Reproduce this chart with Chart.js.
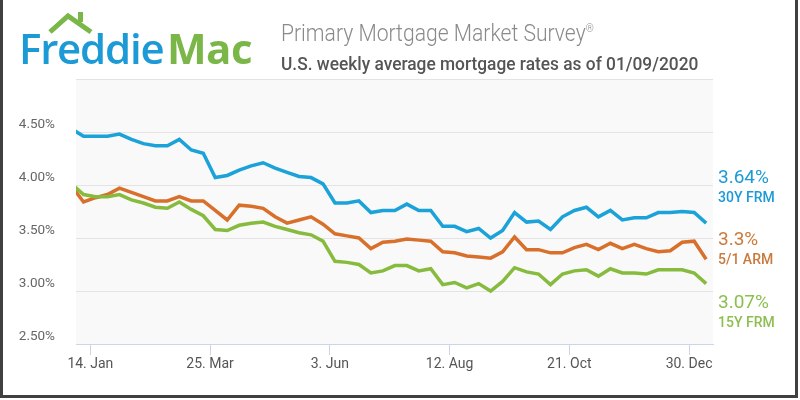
<!DOCTYPE html>
<html>
<head>
<meta charset="utf-8">
<script src="https://cdn.jsdelivr.net/npm/chart.js@4.4.1/dist/chart.umd.min.js"></script>
<style>
  html, body { margin: 0; padding: 0; background: #fff; }
  #page { position: relative; width: 800px; height: 400px; overflow: hidden; font-family: Roboto, sans-serif; }
  #frame { position: absolute; left: 0; top: -4px; width: 798px; height: 402px; box-sizing: border-box; border: 3px solid #404040; }
  #chart { position: absolute; left: 0; top: 0; }
  .t { position: absolute; line-height: 1; white-space: nowrap; transform-origin: left top; }
  #logo1 { left: 19px; top: 27px; font-family: "Open Sans", sans-serif; font-weight: 600; font-size: 42px; color: #1c9ad6; letter-spacing: -1.2px; }
  #logo2 { left: 167px; top: 27px; font-family: "Open Sans", sans-serif; font-weight: 700; font-size: 42px; color: #7ab648; letter-spacing: -0.5px; }
  #title { left: 281px; top: 22px; font-size: 23px; font-weight: 300; color: #8a8a8a; transform: scaleX(0.918); }
  #title sup { font-size: 11px; vertical-align: 9px; }
  #sub { left: 281px; top: 54px; font-size: 19px; font-weight: 500; color: #555; transform: scaleX(0.912); }
  .val { font-size: 19px; left: 718px; }
  .nm { font-size: 14px; font-weight: 500; left: 718px; }
</style>
</head>
<body>
<div id="page">
  <canvas id="chart" width="800" height="400"></canvas>
  <svg style="position:absolute;left:0;top:0" width="120" height="40">
    <polyline points="50,32 68,16 91,32" fill="none" stroke="#7ab648" stroke-width="5" stroke-linejoin="miter"/>
    <rect x="78" y="12" width="5" height="10" fill="#7ab648"/>
  </svg>
  <div class="t" id="logo1">Freddie</div>
  <div class="t" id="logo2">Mac</div>
  <div class="t" id="title">Primary Mortgage Market Survey<sup>®</sup></div>
  <div class="t" id="sub">U.S. weekly average mortgage rates as of 01/09/2020</div>
  <div class="t val" style="top:167px;color:#1c9ad6">3.64%</div>
  <div class="t nm" style="top:190px;color:#1c9ad6">30Y FRM</div>
  <div class="t val" style="top:229px;color:#c97a3c">3.3%</div>
  <div class="t nm" style="top:252px;color:#c97a3c">5/1 ARM</div>
  <div class="t val" style="top:292px;color:#8cbf4f">3.07%</div>
  <div class="t nm" style="top:315px;color:#8cbf4f">15Y FRM</div>
  <div id="frame"></div>
</div>
<script>
const weeks = [
  "2019-01-03", "2019-01-10", "2019-01-17", "2019-01-24", "2019-01-31",
  "2019-02-07", "2019-02-14", "2019-02-21", "2019-02-28",
  "2019-03-07", "2019-03-14", "2019-03-21", "2019-03-28",
  "2019-04-04", "2019-04-11", "2019-04-18", "2019-04-25",
  "2019-05-02", "2019-05-09", "2019-05-16", "2019-05-23", "2019-05-30",
  "2019-06-06", "2019-06-13", "2019-06-20", "2019-06-27",
  "2019-07-04", "2019-07-11", "2019-07-18", "2019-07-25",
  "2019-08-01", "2019-08-08", "2019-08-15", "2019-08-22", "2019-08-29",
  "2019-09-05", "2019-09-12", "2019-09-19", "2019-09-26",
  "2019-10-03", "2019-10-10", "2019-10-17", "2019-10-24", "2019-10-31",
  "2019-11-07", "2019-11-14", "2019-11-21", "2019-11-28",
  "2019-12-05", "2019-12-12", "2019-12-19", "2019-12-26",
  "2020-01-02", "2020-01-09"
];

const frm30 = [
  4.53, 4.46, 4.46, 4.46, 4.48, 4.43, 4.39, 4.37, 4.37,
  4.43, 4.33, 4.30, 4.07, 4.09, 4.14, 4.18, 4.21,
  4.16, 4.12, 4.08, 4.07, 4.01, 3.83, 3.83, 3.85, 3.74,
  3.76, 3.76, 3.82, 3.76, 3.76, 3.61, 3.61, 3.56, 3.59,
  3.50, 3.57, 3.74, 3.65, 3.66, 3.58, 3.70, 3.76, 3.79,
  3.70, 3.76, 3.67, 3.69, 3.69, 3.74, 3.74, 3.75, 3.74, 3.64
];

const arm51 = [
  3.99, 3.84, 3.88, 3.91, 3.97, 3.93, 3.89, 3.85, 3.85,
  3.89, 3.85, 3.85, 3.76, 3.67, 3.81, 3.80, 3.78,
  3.70, 3.64, 3.67, 3.70, 3.63, 3.54, 3.52, 3.50, 3.40,
  3.46, 3.47, 3.49, 3.48, 3.47, 3.37, 3.36, 3.33, 3.32,
  3.31, 3.37, 3.51, 3.39, 3.39, 3.36, 3.36, 3.41, 3.44,
  3.39, 3.45, 3.40, 3.44, 3.40, 3.37, 3.38, 3.46, 3.47, 3.30
];

const frm15 = [
  4.01, 3.91, 3.89, 3.89, 3.91, 3.86, 3.83, 3.79, 3.78,
  3.84, 3.77, 3.71, 3.58, 3.57, 3.62, 3.64, 3.65,
  3.61, 3.58, 3.55, 3.53, 3.47, 3.28, 3.27, 3.25, 3.17,
  3.19, 3.24, 3.24, 3.19, 3.21, 3.06, 3.08, 3.03, 3.07,
  3.00, 3.09, 3.22, 3.18, 3.16, 3.06, 3.16, 3.19, 3.20,
  3.14, 3.21, 3.17, 3.17, 3.16, 3.20, 3.20, 3.20, 3.17, 3.07
];

const tickDates = ["2019-01-14", "2019-03-25", "2019-06-03", "2019-08-12", "2019-10-21", "2019-12-30"];
const tickLabels = ["14. Jan", "25. Mar", "3. Jun", "12. Aug", "21. Oct", "30. Dec"];

// days since the first week, used as the x value
const day0 = Date.parse(weeks[0]);
const toDay = d => Math.round((Date.parse(d) - day0) / 86400000);
const xs = weeks.map(toDay);
const tickDays = tickDates.map(toDay);

const pts = vals => vals.map((v, i) => ({ x: xs[i], y: v }));

const plotBg = {
  id: "plotBg",
  beforeDraw(chart) {
    const a = chart.chartArea;
    const ctx = chart.ctx;
    ctx.save();
    ctx.fillStyle = "#f9f9f9";
    ctx.fillRect(a.left, a.top, a.right - a.left, a.bottom - a.top);
    ctx.restore();
  }
};

const line = (data, color) => ({
  data: pts(data),
  borderColor: color,
  backgroundColor: color,
  borderWidth: 3.5,
  pointRadius: 0,
  tension: 0,
  fill: false
});

new Chart(document.getElementById("chart"), {
  type: "line",
  data: {
    datasets: [
      line(frm15, "#86bb3e"),
      line(arm51, "#d8702b"),
      line(frm30, "#1ba2d9")
    ]
  },
  options: {
    responsive: false,
    animation: false,
    layout: { padding: { top: 79, right: 87, left: 0, bottom: 0 } },
    plugins: { legend: { display: false }, tooltip: { enabled: false } },
    scales: {
      x: {
        type: "linear",
        min: 2.6,
        max: 375,
        afterBuildTicks: s => { s.ticks = tickDays.map(v => ({ value: v })); },
        afterFit: s => { s.height = 56; },
        grid: { drawOnChartArea: false, drawTicks: true, tickLength: 11, color: "#ccd6eb" },
        border: { color: "#ccd6eb" },
        ticks: {
          padding: 1,
          maxRotation: 0,
          color: "#555",
          font: { family: "Roboto", size: 14 },
          callback: v => tickLabels[tickDays.indexOf(v)]
        }
      },
      y: {
        min: 2.5,
        max: 5.0,
        afterFit: s => { s.width = 76; },
        grid: { color: "#e3e3e3", drawTicks: false },
        border: { display: false },
        ticks: {
          stepSize: 0.5,
          padding: 21,
          labelOffset: -7,
          color: "#666",
          font: { family: "Roboto", size: 13.5 },
          callback: v => v >= 5 ? "" : v.toFixed(2) + "%"
        }
      }
    }
  },
  plugins: [plotBg]
});
</script>
</body>
</html>
